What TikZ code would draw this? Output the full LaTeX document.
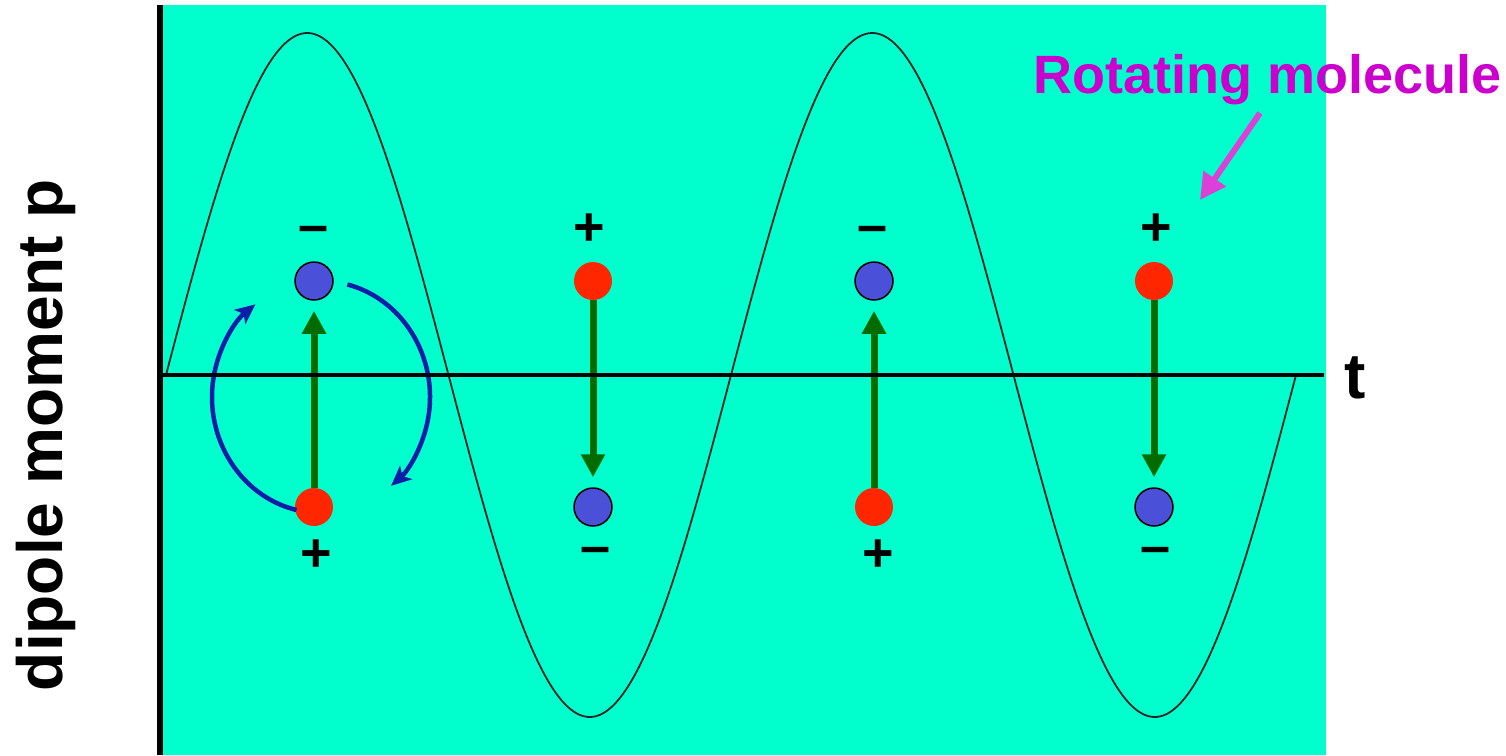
\documentclass[tikz,border=0pt]{standalone}
\usepackage{fontspec}
\setmainfont{Liberation Sans}
\usetikzlibrary{arrows.meta}
\definecolor{bgteal}{RGB}{0,255,204}
\definecolor{negblue}{RGB}{74,80,216}
\definecolor{posred}{RGB}{255,38,0}
\definecolor{dipgreen}{RGB}{0,108,0}
\definecolor{rotblue}{RGB}{10,30,168}
\definecolor{labmag}{RGB}{204,0,204}
\definecolor{arrmag}{RGB}{220,64,214}
\begin{document}
\begin{tikzpicture}[x=1pt,y=-1pt,
  negq/.style={circle,minimum size=38pt,inner sep=0pt,fill=negblue,draw=black,line width=1.5pt},
  posq/.style={circle,minimum size=38pt,inner sep=0pt,fill=posred},
  sign/.style={inner sep=0pt,anchor=north,font=\fontsize{54}{60}\selectfont\bfseries},
  dipup/.style={draw=dipgreen,line width=7pt,-{Triangle[length=23pt,width=23pt]},shorten >=10pt},
  rotarr/.style={draw=rotblue,line width=4.5pt,-{Stealth[length=20pt,width=18pt,inset=5pt]}},
  axisline/.style={draw=black,line width=4pt},
  wave/.style={draw=black!85,line width=1.8pt}
]
\useasboundingbox (0,0) rectangle (1506,755);
\fill[bgteal] (160,5) rectangle (1326,755);

% sine curve
\draw[wave] plot[domain=166:1296,samples=400,smooth] (\x,{375-342*sin((\x-166)/565*360)});

% molecule 1 (up)
\node[negq] (m1t) at (314,281) {};
\node[posq] (m1b) at (314,507) {};
\node[sign] (m1s1) at (314,226) {–};
\node[sign] (m1s2) at (316,540) {+};
\draw[dipup] (m1b) -- (m1t);

% molecule 2 (down)
\node[posq] (m2t) at (593,281) {};
\node[negq] (m2b) at (593,507) {};
\node[sign] (m2s1) at (589,214) {+};
\node[sign] (m2s2) at (596,547) {–};
\draw[dipup] (m2t) -- (m2b);

% molecule 3 (up)
\node[negq] (m3t) at (874,281) {};
\node[posq] (m3b) at (874,507) {};
\node[sign] (m3s1) at (873,226) {–};
\node[sign] (m3s2) at (878,540) {+};
\draw[dipup] (m3b) -- (m3t);

% molecule 4 (down)
\node[posq] (m4t) at (1154,281) {};
\node[negq] (m4b) at (1154,507) {};
\node[sign] (m4s1) at (1156,214) {+};
\node[sign] (m4s2) at (1155,547) {–};
\draw[dipup] (m4t) -- (m4b);

% rotation arrows
\coordinate (rotc) at (321,397);
\draw[rotarr] (rotc) ++(-76:109 and 116) arc[start angle=-76,end angle=50,x radius=109,y radius=116];
\draw[rotarr] (rotc) ++(103:109 and 116) arc[start angle=103,end angle=233,x radius=109,y radius=116];

% axes
\coordinate (ytop) at (160,5);
\coordinate (ybot) at (160,755);
\coordinate (xl) at (162,375);
\coordinate (xr) at (1324,375);
\draw[axisline,line width=6pt] (ytop) -- (ybot);
\draw[axisline] (xl) -- (xr);

% labels
\node[inner sep=0pt,anchor=base,font=\fontsize{64}{70}\selectfont\bfseries] (tlab) at (1355,398) {t};
\node[inner sep=0pt,anchor=base,rotate=90,font=\fontsize{64}{70}\selectfont\bfseries] (plab) at (62,435) {dipole moment p};
\node[inner sep=0pt,anchor=base west,text=labmag,font=\fontsize{54}{60}\selectfont\bfseries] (rlab) at (1033,93) {Rotating molecule};

% pointer arrow
\coordinate (pa1) at (1260,113);
\coordinate (pa2) at (1200,200);
\draw[draw=arrmag,line width=6pt,-{Triangle[length=26pt,width=26pt]}] (pa1) -- (pa2);
\end{tikzpicture}
\end{document}
